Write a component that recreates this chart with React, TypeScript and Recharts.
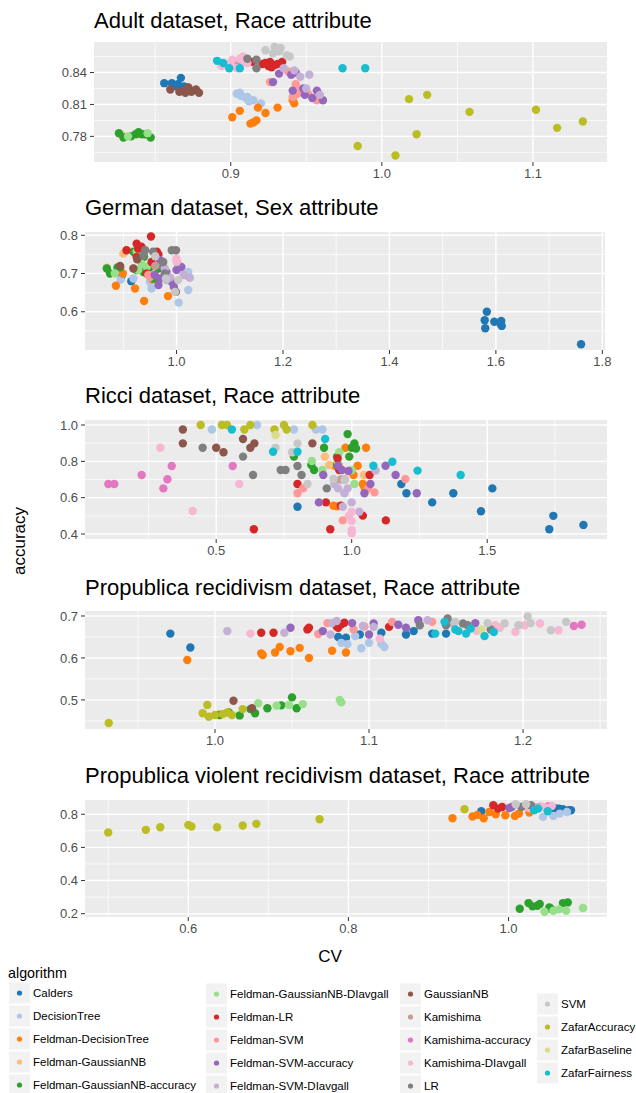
import React from "react";
import { CartesianGrid, Scatter, ScatterChart, XAxis, YAxis } from "recharts";

const algorithms = [
  "Calders",
  "DecisionTree",
  "Feldman-DecisionTree",
  "Feldman-GaussianNB",
  "Feldman-GaussianNB-accuracy",
  "Feldman-GaussianNB-DIavgall",
  "Feldman-LR",
  "Feldman-SVM",
  "Feldman-SVM-accuracy",
  "Feldman-SVM-DIavgall",
  "GaussianNB",
  "Kamishima",
  "Kamishima-accuracy",
  "Kamishima-DIavgall",
  "LR",
  "SVM",
  "ZafarAccuracy",
  "ZafarBaseline",
  "ZafarFairness",
];

const colors = [
  "#1f77b4", "#aec7e8", "#ff7f0e", "#ffbb78", "#2ca02c", "#98df8a", "#d62728",
  "#ff9896", "#9467bd", "#c5b0d5", "#8c564b", "#c49c94", "#e377c2", "#f7b6d2",
  "#7f7f7f", "#c7c7c7", "#bcbd22", "#dbdb8d", "#17becf",
];

type Pts = Record<string, number[][]>;

// [CV, accuracy] pairs per algorithm
const adultPoints: Pts = {
  Calders: [[0.856, 0.830], [0.861, 0.830], [0.865, 0.829], [0.867, 0.835], [0.869, 0.827], [0.871, 0.826], [0.864, 0.827]],
  DecisionTree: [[0.904, 0.820], [0.907, 0.818], [0.910, 0.816], [0.912, 0.813], [0.911, 0.817], [0.915, 0.814], [0.920, 0.811], [0.906, 0.821]],
  "Feldman-DecisionTree": [[0.901, 0.798], [0.906, 0.804], [0.913, 0.792], [0.915, 0.793], [0.917, 0.795], [0.918, 0.807], [0.923, 0.802], [0.931, 0.807], [0.941, 0.814], [0.942, 0.811]],
  "Feldman-GaussianNB": [[0.828, 0.781], [0.838, 0.782], [0.845, 0.781]],
  "Feldman-GaussianNB-DIavgall": [[0.832, 0.780], [0.845, 0.783]],
  "Feldman-GaussianNB-accuracy": [[0.826, 0.783], [0.829, 0.779], [0.834, 0.780], [0.837, 0.782], [0.839, 0.784], [0.843, 0.782], [0.847, 0.779], [0.841, 0.782]],
  "Feldman-LR": [[0.914, 0.850], [0.921, 0.848], [0.923, 0.849], [0.926, 0.850], [0.927, 0.845], [0.929, 0.847], [0.931, 0.848], [0.934, 0.850], [0.925, 0.846]],
  "Feldman-SVM": [[0.926, 0.831], [0.938, 0.841], [0.943, 0.829], [0.944, 0.820], [0.941, 0.817], [0.951, 0.820], [0.957, 0.814], [0.946, 0.823]],
  "Feldman-SVM-accuracy": [[0.928, 0.831], [0.932, 0.839], [0.940, 0.838], [0.943, 0.840], [0.941, 0.823], [0.949, 0.819], [0.954, 0.816], [0.957, 0.823], [0.961, 0.814], [0.948, 0.825]],
  "Feldman-SVM-DIavgall": [[0.942, 0.842], [0.946, 0.836], [0.952, 0.838], [0.950, 0.825], [0.959, 0.819], [0.935, 0.844]],
  GaussianNB: [[0.860, 0.824], [0.866, 0.822], [0.868, 0.823], [0.870, 0.821], [0.874, 0.822], [0.877, 0.824], [0.879, 0.821], [0.872, 0.826]],
  Kamishima: [[0.905, 0.849]],
  "Kamishima-DIavgall": [[0.894, 0.846], [0.899, 0.848], [0.901, 0.852], [0.904, 0.844], [0.906, 0.853], [0.909, 0.850], [0.908, 0.855], [0.911, 0.849]],
  LR: [[0.911, 0.853], [0.917, 0.844], [0.917, 0.852]],
  SVM: [[0.923, 0.861], [0.928, 0.858], [0.929, 0.864], [0.932, 0.860], [0.933, 0.863], [0.937, 0.856], [0.939, 0.855]],
  ZafarAccuracy: [[0.984, 0.771], [1.009, 0.762], [1.018, 0.815], [1.023, 0.782], [1.030, 0.819], [1.058, 0.803], [1.102, 0.805], [1.116, 0.788], [1.133, 0.794]],
  ZafarFairness: [[0.891, 0.851], [0.895, 0.849], [0.899, 0.844], [0.906, 0.844], [0.974, 0.844], [0.989, 0.844]],
};

const germanPoints: Pts = {
  Calders: [[0.915, 0.680], [0.897, 0.694], [1.018, 0.696], [1.583, 0.600], [1.579, 0.578], [1.580, 0.557], [1.597, 0.574], [1.608, 0.570], [1.610, 0.576], [1.611, 0.563], [1.760, 0.515]],
  DecisionTree: [[0.953, 0.661], [1.004, 0.624], [1.022, 0.657], [1.022, 0.704], [0.919, 0.687], [0.950, 0.678], [0.895, 0.684]],
  "Feldman-DecisionTree": [[0.886, 0.668], [0.922, 0.661], [0.939, 0.628], [0.984, 0.641], [0.899, 0.700], [0.956, 0.696], [0.955, 0.685]],
  "Feldman-GaussianNB": [[0.900, 0.752], [0.869, 0.715], [0.919, 0.713], [1.003, 0.722]],
  "Feldman-GaussianNB-accuracy": [[0.869, 0.713], [0.875, 0.700], [0.889, 0.716], [0.919, 0.757], [0.939, 0.744], [0.938, 0.704], [0.950, 0.717], [0.966, 0.713], [0.958, 0.687], [0.894, 0.716], [0.925, 0.709]],
  "Feldman-GaussianNB-DIavgall": [[0.928, 0.709], [0.944, 0.717], [0.884, 0.700], [0.934, 0.726], [0.925, 0.757]],
  "Feldman-LR": [[0.952, 0.797], [0.925, 0.778], [0.906, 0.761], [0.928, 0.765], [0.963, 0.757], [0.925, 0.743], [0.953, 0.730], [0.966, 0.750], [0.934, 0.770], [0.944, 0.700]],
  "Feldman-SVM": [[0.947, 0.696], [0.958, 0.696], [0.950, 0.691]],
  "Feldman-SVM-accuracy": [[0.969, 0.735], [0.975, 0.717], [0.969, 0.687], [0.966, 0.670], [0.991, 0.678], [0.995, 0.665], [1.000, 0.709], [1.009, 0.717], [0.959, 0.696], [0.981, 0.704]],
  "Feldman-SVM-DIavgall": [[0.978, 0.713], [0.988, 0.690], [1.001, 0.730], [1.025, 0.689], [1.013, 0.696], [0.981, 0.683]],
  GaussianNB: [[0.894, 0.720], [0.919, 0.713], [0.926, 0.737]],
  Kamishima: [[0.960, 0.720]],
  "Kamishima-DIavgall": [[1.000, 0.739], [1.000, 0.732]],
  LR: [[0.941, 0.761], [0.956, 0.757], [0.991, 0.761], [0.999, 0.761], [0.975, 0.730], [0.938, 0.748], [0.978, 0.700], [0.999, 0.652]],
  SVM: [[0.997, 0.652], [0.980, 0.687], [1.003, 0.683], [0.960, 0.745]],
};

const ricciPoints: Pts = {
  Calders: [[0.800, 0.550], [1.183, 0.675], [1.202, 0.624], [1.297, 0.574], [1.375, 0.624], [1.477, 0.525], [1.519, 0.651], [1.744, 0.500], [1.729, 0.426], [1.855, 0.450]],
  DecisionTree: [[0.484, 0.975], [0.651, 1.000], [0.787, 0.975], [0.868, 0.975], [0.892, 0.975]],
  "Feldman-DecisionTree": [[0.977, 0.875], [1.053, 0.875], [1.022, 0.776], [1.007, 0.725], [1.041, 0.675], [1.047, 0.657], [0.933, 0.556], [0.938, 0.776], [0.946, 0.552]],
  "Feldman-GaussianNB": [[0.901, 0.826], [0.917, 0.780], [1.045, 0.725], [0.973, 0.701], [0.953, 0.780]],
  "Feldman-GaussianNB-accuracy": [[0.985, 0.950], [0.898, 0.875], [0.787, 0.826], [0.851, 0.780], [0.861, 0.752], [0.946, 0.780], [0.991, 0.826], [1.010, 0.899], [1.000, 0.875], [1.016, 0.871], [0.946, 0.826]],
  "Feldman-GaussianNB-DIavgall": [[0.853, 0.802], [0.892, 0.752], [0.954, 0.850], [0.948, 0.798], [1.000, 0.752], [1.010, 0.675]],
  "Feldman-LR": [[0.639, 0.426], [0.800, 0.675], [0.905, 0.574], [0.921, 0.426], [0.948, 0.817], [0.954, 0.752], [0.960, 0.556], [1.041, 0.501], [1.066, 0.725], [1.126, 0.475]],
  "Feldman-SVM": [[0.800, 0.624], [0.821, 0.651], [0.967, 0.475], [1.084, 0.629], [1.198, 0.703], [1.060, 0.650]],
  "Feldman-SVM-accuracy": [[0.895, 0.725], [0.964, 0.752], [0.988, 0.747], [0.879, 0.574], [1.069, 0.675], [1.047, 0.624], [1.125, 0.776], [1.162, 0.725], [1.240, 0.624], [0.950, 0.776]],
  "Feldman-SVM-DIavgall": [[1.088, 0.749], [0.936, 0.675], [0.950, 0.651], [0.973, 0.624], [0.985, 0.651], [1.000, 0.574], [1.028, 0.523], [0.967, 0.550], [0.975, 0.700]],
  GaussianNB: [[0.377, 0.975], [0.377, 0.899], [0.500, 0.875], [0.527, 0.850], [0.599, 0.923], [0.626, 0.875], [0.641, 0.899], [0.855, 0.899]],
  Kamishima: [[0.960, 0.700]],
  "Kamishima-accuracy": [[0.102, 0.675], [0.124, 0.675], [0.225, 0.725], [0.305, 0.651], [0.320, 0.701], [0.336, 0.774], [0.561, 0.774]],
  "Kamishima-DIavgall": [[0.294, 0.875], [0.413, 0.527], [0.585, 0.675], [1.000, 0.523], [1.000, 0.472], [1.000, 0.422], [1.000, 0.404], [0.990, 0.500]],
  LR: [[0.450, 0.875], [0.599, 0.826], [0.636, 0.725], [0.738, 0.752], [0.756, 0.752], [0.800, 0.774], [0.815, 0.725], [0.908, 0.651]],
  SVM: [[0.800, 0.899], [0.719, 0.875], [0.837, 0.675], [0.933, 0.703], [0.973, 0.697], [0.780, 0.850]],
  ZafarAccuracy: [[0.443, 1.000], [0.521, 1.000], [0.540, 1.000], [0.604, 0.975], [0.626, 1.000], [0.715, 0.975], [0.750, 1.000], [0.760, 0.975], [0.855, 1.000]],
  ZafarBaseline: [[0.719, 0.945]],
  ZafarFairness: [[0.558, 0.975], [0.902, 0.923], [0.710, 0.853], [0.800, 0.853], [1.150, 0.798], [1.243, 0.749], [1.402, 0.725], [1.080, 0.776]],
};

const recidPoints: Pts = {
  Calders: [[0.971, 0.658], [0.984, 0.625], [1.080, 0.650], [1.085, 0.648], [1.094, 0.656], [1.108, 0.660], [1.124, 0.656], [1.129, 0.664], [1.141, 0.658], [1.150, 0.658]],
  DecisionTree: [[1.082, 0.636], [1.086, 0.633], [1.091, 0.652], [1.095, 0.623], [1.100, 0.636], [1.110, 0.626], [1.108, 0.634]],
  "Feldman-DecisionTree": [[0.982, 0.595], [1.030, 0.611], [1.031, 0.607], [1.039, 0.613], [1.042, 0.626], [1.049, 0.616], [1.055, 0.624], [1.061, 0.600], [1.076, 0.617], [1.085, 0.613]],
  "Feldman-GaussianNB": [[1.003, 0.466]],
  "Feldman-GaussianNB-accuracy": [[1.003, 0.464], [1.009, 0.470], [1.016, 0.463], [1.023, 0.478], [1.026, 0.468], [1.034, 0.480], [1.043, 0.487], [1.050, 0.506], [1.053, 0.480]],
  "Feldman-GaussianNB-DIavgall": [[1.028, 0.492], [1.040, 0.486], [1.048, 0.488], [1.057, 0.490], [1.081, 0.500], [1.082, 0.494]],
  "Feldman-LR": [[1.030, 0.660], [1.038, 0.660], [1.060, 0.668], [1.061, 0.672], [1.079, 0.675], [1.082, 0.680], [1.084, 0.684], [1.113, 0.674], [1.080, 0.672]],
  "Feldman-SVM": [[1.067, 0.657], [1.073, 0.683], [1.090, 0.668], [1.097, 0.675], [1.115, 0.686], [1.141, 0.686]],
  "Feldman-SVM-accuracy": [[1.049, 0.672], [1.070, 0.664], [1.089, 0.683], [1.103, 0.682], [1.100, 0.656], [1.119, 0.679], [1.124, 0.672], [1.132, 0.690], [1.169, 0.683]],
  "Feldman-SVM-DIavgall": [[1.008, 0.664], [1.045, 0.660], [1.075, 0.656], [1.076, 0.683], [1.079, 0.688], [1.103, 0.674], [1.138, 0.690], [1.154, 0.683], [1.096, 0.676]],
  GaussianNB: [[1.012, 0.498], [1.024, 0.480]],
  "Kamishima-accuracy": [[1.233, 0.676], [1.238, 0.679]],
  "Kamishima-DIavgall": [[1.023, 0.658], [1.107, 0.646], [1.170, 0.664], [1.182, 0.678], [1.185, 0.672], [1.195, 0.662], [1.201, 0.678], [1.211, 0.682], [1.223, 0.666]],
  LR: [[1.133, 0.678], [1.151, 0.694], [1.161, 0.682], [1.164, 0.678], [1.179, 0.668], [1.150, 0.678]],
  SVM: [[1.156, 0.686], [1.177, 0.683], [1.188, 0.682], [1.197, 0.678], [1.203, 0.699], [1.205, 0.683], [1.218, 0.666], [1.228, 0.686]],
  ZafarAccuracy: [[0.931, 0.445], [0.992, 0.468], [0.995, 0.488], [0.996, 0.460], [1.000, 0.464], [1.005, 0.466], [1.011, 0.464], [1.018, 0.478], [1.008, 0.470]],
  ZafarBaseline: [[1.173, 0.668]],
  ZafarFairness: [[1.149, 0.686], [1.143, 0.658], [1.156, 0.668], [1.158, 0.664], [1.163, 0.658], [1.175, 0.652], [1.181, 0.662], [1.166, 0.670]],
};

const violentPoints: Pts = {
  Calders: [[0.966, 0.818], [1.056, 0.838], [1.060, 0.834], [1.063, 0.834], [1.068, 0.830], [1.075, 0.824], [1.078, 0.824]],
  DecisionTree: [[1.043, 0.784], [1.056, 0.790], [1.064, 0.804], [1.073, 0.814]],
  "Feldman-DecisionTree": [[0.930, 0.776], [0.955, 0.786], [0.961, 0.796], [0.969, 0.776], [0.976, 0.814], [0.984, 0.800], [0.996, 0.794], [1.008, 0.790], [1.013, 0.804], [1.026, 0.810]],
  "Feldman-GaussianNB-accuracy": [[1.014, 0.230], [1.025, 0.264], [1.030, 0.244], [1.039, 0.258], [1.051, 0.238], [1.053, 0.230], [1.068, 0.264], [1.074, 0.268], [1.036, 0.248]],
  "Feldman-GaussianNB-DIavgall": [[1.045, 0.212], [1.056, 0.218], [1.072, 0.218], [1.093, 0.234], [1.063, 0.226]],
  "Feldman-LR": [[0.981, 0.854], [0.987, 0.834], [0.992, 0.844]],
  "Feldman-SVM": [[1.020, 0.850], [1.040, 0.846]],
  "Feldman-SVM-accuracy": [[1.001, 0.838], [1.004, 0.844]],
  "Feldman-SVM-DIavgall": [[1.035, 0.842]],
  "Kamishima-accuracy": [[1.050, 0.848]],
  "Kamishima-DIavgall": [[1.043, 0.844], [1.049, 0.838], [1.054, 0.850], [1.026, 0.838]],
  LR: [[1.016, 0.844], [1.028, 0.854]],
  SVM: [[1.009, 0.860], [1.022, 0.860]],
  ZafarAccuracy: [[0.500, 0.690], [0.547, 0.706], [0.565, 0.722], [0.600, 0.736], [0.604, 0.726], [0.636, 0.722], [0.668, 0.732], [0.685, 0.742], [0.764, 0.770], [0.945, 0.830]],
  ZafarFairness: [[1.032, 0.824], [1.037, 0.834], [1.049, 0.818]],
};

// axis breaks
const adultXTicks = [0.9, 1.0, 1.1];
const adultXMinor = [0.85, 0.95, 1.05];
const adultYTicks = [0.78, 0.81, 0.84];
const adultYMinor = [0.765, 0.795, 0.825, 0.855];
const germanXTicks = [1.0, 1.2, 1.4, 1.6, 1.8];
const germanXMinor = [0.9, 1.1, 1.3, 1.5, 1.7];
const germanYTicks = [0.6, 0.7, 0.8];
const germanYMinor = [0.55, 0.65, 0.75];
const ricciXTicks = [0.5, 1.0, 1.5];
const ricciXMinor = [0.25, 0.75, 1.25, 1.75];
const ricciYTicks = [0.4, 0.6, 0.8, 1.0];
const ricciYMinor = [0.5, 0.7, 0.9];
const recidXTicks = [1.0, 1.1, 1.2];
const recidXMinor = [0.95, 1.05, 1.15, 1.25];
const recidYTicks = [0.5, 0.6, 0.7];
const recidYMinor = [0.45, 0.55, 0.65];
const violentXTicks = [0.6, 0.8, 1.0];
const violentXMinor = [0.5, 0.7, 0.9, 1.1];
const violentYTicks = [0.2, 0.4, 0.6, 0.8];
const violentYMinor = [0.3, 0.5, 0.7];

const panels = [
  { title: "Adult dataset, Race attribute", points: adultPoints, xDomain: [0.8095, 1.149], yDomain: [0.7559, 0.8687], xTicks: adultXTicks, xMinor: adultXMinor, yTicks: adultYTicks, yMinor: adultYMinor, yDigits: 2, left: 94, right: 607, top: 42, bottom: 162, titleY: 28 },
  { title: "German dataset, Sex attribute", points: germanPoints, xDomain: [0.828, 1.805], yDomain: [0.5, 0.8086], xTicks: germanXTicks, xMinor: germanXMinor, yTicks: germanYTicks, yMinor: germanYMinor, yDigits: 1, left: 85, right: 605, top: 232, bottom: 350, titleY: 215 },
  { title: "Ricci dataset, Race attribute", points: ricciPoints, xDomain: [0.016, 1.942], yDomain: [0.3725, 1.0275], xTicks: ricciXTicks, xMinor: ricciXMinor, yTicks: ricciYTicks, yMinor: ricciYMinor, yDigits: 1, left: 85, right: 607, top: 420, bottom: 539, titleY: 403 },
  { title: "Propublica recidivism dataset, Race attribute", points: recidPoints, xDomain: [0.9156, 1.2545], yDomain: [0.4306, 0.7119], xTicks: recidXTicks, xMinor: recidXMinor, yTicks: recidYTicks, yMinor: recidYMinor, yDigits: 1, left: 85, right: 607, top: 611, bottom: 729, titleY: 595 },
  { title: "Propublica violent recidivism dataset, Race attribute", points: violentPoints, xDomain: [0.471, 1.123], yDomain: [0.18, 0.886], xTicks: violentXTicks, xMinor: violentXMinor, yTicks: violentYTicks, yMinor: violentYMinor, yDigits: 1, left: 85, right: 607, top: 800, bottom: 917, titleY: 783 },
];

// legend layout: columns of algorithm indices
const legendCols = [
  { x: 9, ys: [993, 1016, 1039, 1062, 1085], items: [0, 1, 2, 3, 4] },
  { x: 206, ys: [994, 1017, 1040, 1063, 1086], items: [5, 6, 7, 8, 9] },
  { x: 400, ys: [994, 1017, 1040, 1063, 1086], items: [10, 11, 12, 13, 14] },
  { x: 537, ys: [1004, 1027, 1050, 1073], items: [15, 16, 17, 18] },
];

const FONT = "'Liberation Sans', Arial, Helvetica, sans-serif";

const dot = (color: string) => (props: any) =>
  <circle cx={props.cx} cy={props.cy} r={4.2} fill={color} />;

const Panel = ({ p }: { p: (typeof panels)[number] }) => {
  const axisTick = { fill: "#4D4D4D", fontSize: 13, fontFamily: FONT };
  return (
    <div style={{ position: "absolute", left: 0, top: p.top - 5 }}>
      <ScatterChart
        width={636}
        height={p.bottom - p.top + 35}
        margin={{ top: 5, right: 636 - p.right, bottom: 0, left: 0 }}
      >
        <CartesianGrid fill="#EBEBEB" stroke="#FFFFFF" strokeWidth={0.7} horizontalValues={p.yMinor} verticalValues={p.xMinor} />
        <CartesianGrid stroke="#FFFFFF" strokeWidth={1.4} horizontalValues={p.yTicks} verticalValues={p.xTicks} />
        <XAxis
          type="number"
          dataKey="cv"
          domain={p.xDomain}
          ticks={p.xTicks}
          allowDataOverflow
          axisLine={false}
          tickLine={{ stroke: "#333333" }}
          tickSize={4}
          tickMargin={3}
          height={30}
          tick={axisTick}
          tickFormatter={(v: number) => v.toFixed(1)}
        />
        <YAxis
          type="number"
          dataKey="acc"
          domain={p.yDomain}
          ticks={p.yTicks}
          allowDataOverflow
          axisLine={false}
          tickLine={{ stroke: "#333333" }}
          tickSize={4}
          tickMargin={3}
          width={p.left}
          tick={axisTick}
          tickFormatter={(v: number) => v.toFixed(p.yDigits)}
        />
        {algorithms.map((name, i) =>
          p.points[name] ? (
            <Scatter
              key={name}
              name={name}
              data={p.points[name].map(([cv, acc]) => ({ cv, acc }))}
              fill={colors[i]}
              shape={dot(colors[i])}
              isAnimationActive={false}
            />
          ) : null
        )}
      </ScatterChart>
    </div>
  );
};

const App = () => {
  return (
    <div style={{ position: "absolute", left: 0, top: 0, width: 636, height: 1093, background: "#fff", overflow: "hidden", fontFamily: FONT }}>
      {panels.map((p) => (
        <Panel key={p.title} p={p} />
      ))}
      <svg width={636} height={1093} style={{ position: "absolute", left: 0, top: 0, pointerEvents: "none" }} fontFamily={FONT}>
        {panels.map((p) => (
          <text key={p.title} x={p.left} y={p.titleY} fontSize={22} fill="#000">
            {p.title}
          </text>
        ))}
        <text x={0} y={0} fontSize={17} fill="#000" textAnchor="middle" transform="translate(25,541) rotate(-90)">
          accuracy
        </text>
        <text x={330} y={962} fontSize={17} fill="#000" textAnchor="middle">
          CV
        </text>
        <text x={8} y={978} fontSize={14.3} fill="#000">
          algorithm
        </text>
        {legendCols.map((col) =>
          col.items.map((idx, r) => (
            <g key={algorithms[idx]}>
              <rect x={col.x} y={col.ys[r] - 10.5} width={21} height={21} fill="#F2F2F2" />
              <circle cx={col.x + 10.5} cy={col.ys[r]} r={2.6} fill={colors[idx]} />
              <text x={col.x + 24} y={col.ys[r] + 4.2} fontSize={11.5} fill="#000">
                {algorithms[idx]}
              </text>
            </g>
          ))
        )}
      </svg>
    </div>
  );
};

export default App;
